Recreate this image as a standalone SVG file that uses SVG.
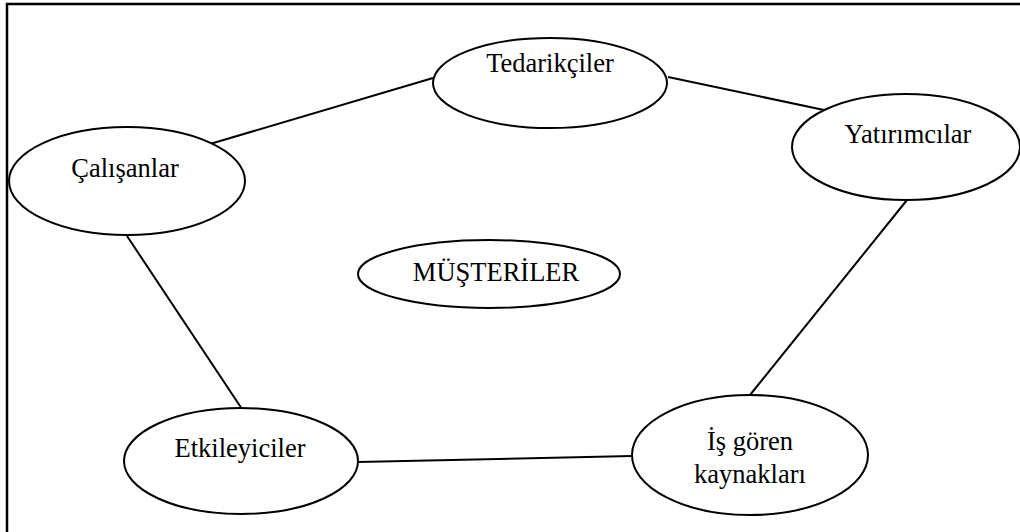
<svg xmlns="http://www.w3.org/2000/svg" width="1020" height="532" viewBox="0 0 1020 532">
<style>
.n{fill:#fff;stroke:#000;stroke-width:2}
.t{font-family:"Liberation Serif","Times New Roman",serif;font-size:26.5px;fill:#000;text-anchor:middle}
.c line{stroke:#000;stroke-width:2}
</style>
<rect width="1020" height="532" fill="#fff"/>
<path d="M7,532 V4 H1020" fill="none" stroke="#000" stroke-width="2.5"/>
<g class="c" id="connectors">
<line x1="210" y1="144" x2="433" y2="78"/>
<line x1="668" y1="77" x2="824" y2="110"/>
<line x1="907" y1="200" x2="750" y2="395"/>
<line x1="127" y1="236" x2="242" y2="409"/>
<line x1="358" y1="462" x2="632" y2="456"/>
</g>
<g id="tedarikciler"><ellipse class="n" cx="550" cy="83" rx="117" ry="45"/><text class="t" x="550" y="72">Tedarikçiler</text></g>
<g id="calisanlar"><ellipse class="n" cx="127" cy="181" rx="118" ry="54"/><text class="t" x="125" y="177">Çalışanlar</text></g>
<g id="yatirimcilar"><ellipse class="n" cx="906" cy="147" rx="114" ry="53"/><text class="t" x="908" y="143">Yatırımcılar</text></g>
<g id="musteriler"><ellipse class="n" cx="489" cy="274" rx="131" ry="34"/><text class="t" x="496" y="281">MÜŞTERİLER</text></g>
<g id="etkileyiciler"><ellipse class="n" cx="241" cy="461" rx="117" ry="53"/><text class="t" x="240" y="457">Etkileyiciler</text></g>
<g id="isgoren"><ellipse class="n" cx="750" cy="455" rx="118" ry="60"/><text class="t" x="750" y="450">İş gören</text><text class="t" x="750" y="483">kaynakları</text></g>
</svg>
